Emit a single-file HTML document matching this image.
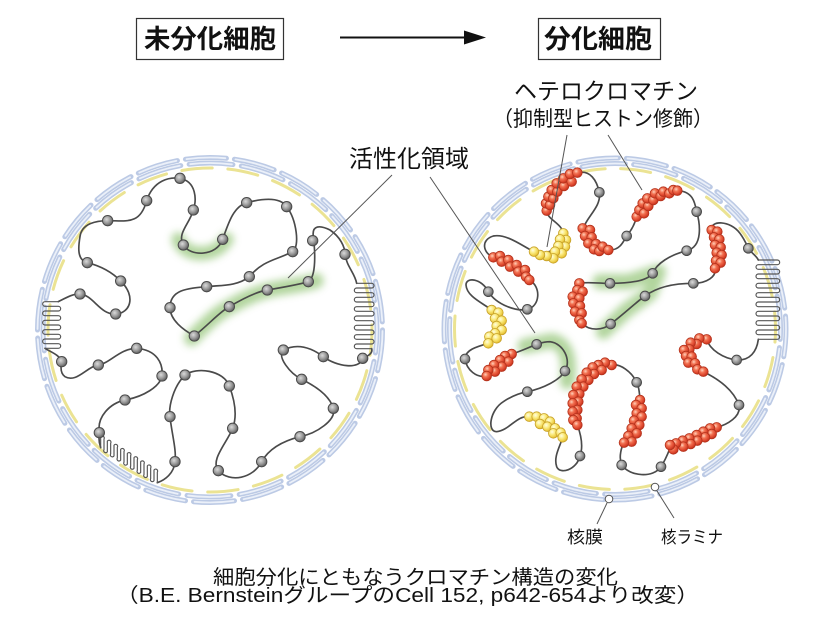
<!DOCTYPE html>
<html><head><meta charset="utf-8"><style>
html,body{margin:0;padding:0;background:#fff;}
svg{display:block;}
.t{font-family:"Liberation Sans","Noto Sans CJK JP",sans-serif;fill:#111;}
</style></head><body>
<svg width="823" height="625" viewBox="0 0 823 625" xmlns="http://www.w3.org/2000/svg">
<defs>
<radialGradient id="gn" cx="0.4" cy="0.38" r="0.65"><stop offset="0" stop-color="#dadada"/><stop offset="0.55" stop-color="#9a9a9a"/><stop offset="1" stop-color="#5a5a5a"/></radialGradient>
<radialGradient id="gr" cx="0.38" cy="0.35" r="0.7"><stop offset="0" stop-color="#ffd2bc"/><stop offset="0.35" stop-color="#f27252"/><stop offset="0.75" stop-color="#db432b"/><stop offset="1" stop-color="#b32d18"/></radialGradient>
<radialGradient id="gy" cx="0.38" cy="0.35" r="0.7"><stop offset="0" stop-color="#fffde2"/><stop offset="0.4" stop-color="#fbec82"/><stop offset="0.8" stop-color="#ecca42"/><stop offset="1" stop-color="#cfa522"/></radialGradient>
<circle id="n" r="15.5" fill="url(#gn)" stroke="#4a4a4a" stroke-width="3"/>
<circle id="m" r="14.5" fill="url(#gn)" stroke="#4a4a4a" stroke-width="3"/>
<circle id="r" r="14.5" fill="url(#gr)" stroke="#b5331d" stroke-width="2.5"/>
<circle id="y" r="14.5" fill="url(#gy)" stroke="#c8a22a" stroke-width="2.5"/>
<filter id="bl" x="-30%" y="-30%" width="160%" height="160%"><feGaussianBlur stdDeviation="12"/></filter>
</defs>

<!-- Header -->
<rect x="136.5" y="18.5" width="147" height="41" fill="#fff" stroke="#333" stroke-width="1.2"/>
<text class="t" x="144" y="48" font-size="26" font-weight="bold" textLength="132" lengthAdjust="spacingAndGlyphs">未分化細胞</text>
<line x1="340" y1="37.5" x2="470" y2="37.5" stroke="#111" stroke-width="2"/>
<polygon points="464,30.5 486,37.5 464,44.5" fill="#111"/>
<rect x="538.5" y="18.5" width="122" height="41" fill="#fff" stroke="#333" stroke-width="1.2"/>
<text class="t" x="544" y="48" font-size="26" font-weight="bold" textLength="108" lengthAdjust="spacingAndGlyphs">分化細胞</text>

<!-- Rings left -->
<g transform="translate(210,330)" fill="none" stroke-linecap="round">
<circle r="172.5" stroke="#bccae5" stroke-width="5" pathLength="1000" stroke-dasharray="38 7.45"/>
<circle r="172.5" stroke="#ebf0f9" stroke-width="1.8" pathLength="1000" stroke-dasharray="36 9.45" stroke-dashoffset="-1"/>
<circle r="167" stroke="#bccae5" stroke-width="5" pathLength="1000" stroke-dasharray="42 8" stroke-dashoffset="20"/>
<circle r="167" stroke="#ebf0f9" stroke-width="1.8" pathLength="1000" stroke-dasharray="40 10" stroke-dashoffset="19"/>
<circle r="162" stroke="#ebe393" stroke-width="3" pathLength="1000" stroke-dasharray="30 15.45" stroke-dashoffset="5"/>
</g>
<!-- Rings right -->
<g transform="translate(615,329)" fill="none" stroke-linecap="round">
<circle r="171" stroke="#bccae5" stroke-width="5" pathLength="1000" stroke-dasharray="38 7.45" stroke-dashoffset="12"/>
<circle r="171" stroke="#ebf0f9" stroke-width="1.8" pathLength="1000" stroke-dasharray="36 9.45" stroke-dashoffset="11"/>
<circle r="165.5" stroke="#bccae5" stroke-width="5" pathLength="1000" stroke-dasharray="42 8" stroke-dashoffset="32"/>
<circle r="165.5" stroke="#ebf0f9" stroke-width="1.8" pathLength="1000" stroke-dasharray="40 10" stroke-dashoffset="31"/>
<circle r="160.5" stroke="#ebe393" stroke-width="3" pathLength="1000" stroke-dasharray="30 15.45" stroke-dashoffset="17"/>
</g>

<!-- LEFT CELL chromatin (zoom coords) -->
<g transform="translate(30,150) scale(0.333333)">
<g filter="url(#bl)" fill="none" stroke="#9fcb85" stroke-linecap="round" stroke-linejoin="round" opacity="0.8">
<path d="M445,268 C455,300 490,312 520,310 C555,306 575,292 590,268" stroke-width="42"/>
<path d="M485,565 C530,520 560,490 600,470 C650,440 700,420 760,412 C800,405 840,400 858,392" stroke-width="46"/>
</g>
<g fill="none" stroke="#4a4a4a" stroke-width="5" stroke-linecap="round" stroke-linejoin="round">
<path d="M85,455 C105,445 130,430 150,432 C190,435 210,495 257,492 C300,490 320,440 272,393 C240,360 200,345 172,338 C140,330 145,290 150,260 C155,220 200,212 233,212 C290,212 330,225 350,152 C370,90 420,80 450,85 C500,95 500,150 490,180 C480,220 440,250 460,285 C480,320 560,320 578,268 C595,220 610,170 650,158 C700,145 750,140 770,170 C800,210 810,290 788,305 C740,330 700,330 658,380 C620,410 570,405 530,410 C470,415 420,420 420,473 C420,510 460,540 493,558 C540,520 570,485 598,470 C640,445 680,425 712,420 C770,410 820,400 835,395 C860,380 855,300 850,260 C845,225 870,225 900,240 C930,260 945,290 945,313 C950,350 975,370 980,400"/>
<path d="M1025,596 C1030,612 1008,620 998,625 C990,660 920,650 880,620 C840,590 800,580 760,600 C740,620 780,670 815,688 C860,710 900,740 910,775 C920,810 860,850 810,860 C770,870 720,890 695,935 C670,985 600,1000 565,962 C540,930 590,880 608,835 C625,790 610,740 598,708 C580,660 500,650 465,675 C430,710 415,770 420,800 C425,850 440,900 435,935 C432,970 405,990 382,998"/>
<path d="M212,893 C206,875 206,860 208,848 C200,800 240,760 285,750 C340,740 390,710 396,678 C400,640 380,600 320,595 C270,595 240,640 205,645 C170,650 140,700 105,680 C90,670 92,650 95,635 C90,615 60,605 45,595"/>
</g>
<g fill="none" stroke="#555" stroke-width="3.5" stroke-linecap="round" stroke-linejoin="round">
<path d="M980,400 L1025,400 A7,7 0 0 1 1025,414 L980,414 A7,7 0 0 0 980,428 L1025,428 A7,7 0 0 1 1025,442 L980,442 A7,7 0 0 0 980,456 L1025,456 A7,7 0 0 1 1025,470 L980,470 A7,7 0 0 0 980,484 L1025,484 A7,7 0 0 1 1025,498 L980,498 A7,7 0 0 0 980,512 L1025,512 A7,7 0 0 1 1025,526 L980,526 A7,7 0 0 0 980,540 L1025,540 A7,7 0 0 1 1025,554 L980,554 A7,7 0 0 0 980,568 L1025,568 A7,7 0 0 1 1025,582 L980,582 A7,7 0 0 0 980,596 L1025,596"/>
<path d="M85,455 L45,455 A7,7 0 0 0 45,469 L85,469 A7,7 0 0 1 85,483 L45,483 A7,7 0 0 0 45,497 L85,497 A7,7 0 0 1 85,511 L45,511 A7,7 0 0 0 45,525 L85,525 A7,7 0 0 1 85,539 L45,539 A7,7 0 0 0 45,553 L85,553 A7,7 0 0 1 85,567 L45,567 A7,7 0 0 0 45,581 L85,581 A7,7 0 0 1 85,595 L45,595"/>
<path d="M212,893 L212,861 A5,5 0 0 1 222,867.2 L222,899.2 A5,5 0 0 0 232,905.4 L232,873.4 A5,5 0 0 1 242,879.6 L242,911.6 A5,5 0 0 0 252,917.8 L252,885.8 A5,5 0 0 1 262,892 L262,924 A5,5 0 0 0 272,930.2 L272,898.2 A5,5 0 0 1 282,904.4 L282,936.4 A5,5 0 0 0 292,942.6 L292,910.6 A5,5 0 0 1 302,916.8 L302,948.8 A5,5 0 0 0 312,955 L312,923 A5,5 0 0 1 322,929.2 L322,961.2 A5,5 0 0 0 332,967.4 L332,935.4 A5,5 0 0 1 342,941.6 L342,973.6 A5,5 0 0 0 352,979.8 L352,947.8 A5,5 0 0 1 362,954 L362,986 A5,5 0 0 0 372,992.2 L372,960.2 A5,5 0 0 1 382,966.4 L382,998.4"/>
</g>
<g>
<use href="#n" x="450" y="85"/><use href="#n" x="350" y="152"/><use href="#n" x="490" y="180"/><use href="#n" x="233" y="212"/>
<use href="#n" x="460" y="285"/><use href="#n" x="578" y="268"/><use href="#n" x="650" y="158"/><use href="#n" x="770" y="170"/>
<use href="#n" x="788" y="305"/><use href="#n" x="848" y="272"/><use href="#n" x="945" y="313"/><use href="#n" x="172" y="338"/>
<use href="#n" x="272" y="393"/><use href="#n" x="658" y="380"/><use href="#n" x="530" y="410"/><use href="#n" x="835" y="395"/>
<use href="#n" x="712" y="420"/><use href="#n" x="150" y="432"/><use href="#n" x="257" y="492"/><use href="#n" x="420" y="473"/>
<use href="#n" x="598" y="470"/><use href="#n" x="493" y="558"/><use href="#n" x="760" y="600"/><use href="#n" x="880" y="620"/>
<use href="#n" x="998" y="625"/><use href="#n" x="95" y="635"/><use href="#n" x="205" y="645"/><use href="#n" x="320" y="595"/>
<use href="#n" x="396" y="678"/><use href="#n" x="465" y="675"/><use href="#n" x="598" y="708"/><use href="#n" x="815" y="688"/>
<use href="#n" x="285" y="750"/><use href="#n" x="420" y="800"/><use href="#n" x="608" y="835"/><use href="#n" x="910" y="775"/>
<use href="#n" x="208" y="848"/><use href="#n" x="810" y="860"/><use href="#n" x="435" y="935"/><use href="#n" x="695" y="935"/>
<use href="#n" x="565" y="962"/>
</g>
</g>

<!-- RIGHT CELL chromatin (zoom coords) -->
<g transform="translate(440,150) scale(0.333333)">
<g filter="url(#bl)" fill="none" stroke="#9fcb85" stroke-linecap="round" stroke-linejoin="round" opacity="0.8">
<path d="M480,395 L565,395 L655,365 L630,430 L560,480 L490,545" stroke-width="46"/>
<path d="M255,588 L335,572 C375,580 392,620 382,695" stroke-width="46"/>
</g>
<g fill="none" stroke="#4a4a4a" stroke-width="5" stroke-linecap="round" stroke-linejoin="round">
<path d="M320,185 C330,140 360,90 415,68 C450,60 470,90 478,127 C485,170 440,200 430,235 C440,270 480,300 510,300 C540,300 550,275 560,258 C575,240 585,220 590,200 C610,150 660,120 715,122 C760,125 765,160 770,185 C780,220 790,290 740,302 C690,315 650,340 638,370 C620,395 560,400 510,400 C470,400 440,395 418,400 C390,430 395,490 425,520 C450,545 490,540 512,522 C560,485 590,455 615,438 C660,405 720,400 760,400 C800,400 830,380 825,355 C840,310 820,270 815,240 C810,210 870,210 900,250 C915,270 920,285 925,295 C935,310 950,318 955,330"/>
<path d="M955,568 C950,605 930,632 890,630 C850,625 810,600 800,568 C740,580 735,640 790,665 C840,690 880,720 897,765 C905,800 860,825 830,832 C760,850 700,870 690,895 C680,920 670,940 663,950 C640,985 570,980 545,945 C535,920 545,890 552,878 C580,840 605,790 600,750 C598,720 595,705 590,697 C575,665 540,640 515,645 C440,650 400,720 400,760 C400,800 405,800 412,825 C425,860 430,890 420,918 C410,960 360,975 350,950 C340,920 360,890 368,862 C340,830 300,800 268,800 C230,795 210,840 170,845 C140,845 150,780 190,755 C220,735 245,728 262,725 C310,715 360,690 375,663 C395,630 370,580 330,575 C310,575 300,580 290,583 C260,595 240,605 215,612 C180,640 150,660 140,678 C110,685 80,660 75,627 C75,600 110,590 145,580 C165,540 180,510 155,480 C130,460 80,440 78,405 C78,380 125,385 145,425 C170,465 230,485 262,478 C300,470 305,410 268,390 C230,370 190,330 160,322 C130,310 120,270 160,258 C200,250 250,290 282,305 C320,320 375,290 370,250 C365,220 325,210 320,185"/>
</g>
<path fill="none" stroke="#555" stroke-width="3.5" stroke-linecap="round" stroke-linejoin="round" d="M955,330 L1012,330 A7,7 0 0 1 1012,344 L955,344 A7,7 0 0 0 955,358 L1012,358 A7,7 0 0 1 1012,372 L955,372 A7,7 0 0 0 955,386 L1012,386 A7,7 0 0 1 1012,400 L955,400 A7,7 0 0 0 955,414 L1012,414 A7,7 0 0 1 1012,428 L955,428 A7,7 0 0 0 955,442 L1012,442 A7,7 0 0 1 1012,456 L955,456 A7,7 0 0 0 955,470 L1012,470 A7,7 0 0 1 1012,484 L955,484 A7,7 0 0 0 955,498 L1012,498 A7,7 0 0 1 1012,512 L955,512 A7,7 0 0 0 955,526 L1012,526 A7,7 0 0 1 1012,540 L955,540 A7,7 0 0 0 955,554 L1012,554 A7,7 0 0 1 1012,568 L955,568"/>
<g>
<use href="#m" x="478" y="127"/><use href="#m" x="770" y="185"/><use href="#m" x="560" y="258"/><use href="#m" x="740" y="302"/>
<use href="#m" x="925" y="295"/><use href="#m" x="262" y="478"/><use href="#m" x="145" y="425"/><use href="#m" x="510" y="400"/>
<use href="#m" x="638" y="370"/><use href="#m" x="760" y="400"/><use href="#m" x="615" y="438"/><use href="#m" x="512" y="522"/>
<use href="#m" x="290" y="583"/><use href="#m" x="375" y="663"/><use href="#m" x="75" y="627"/><use href="#m" x="262" y="725"/>
<use href="#m" x="590" y="697"/><use href="#m" x="890" y="630"/><use href="#m" x="897" y="765"/><use href="#m" x="420" y="918"/>
<use href="#m" x="545" y="945"/><use href="#m" x="663" y="950"/>
</g>
<!-- red clusters -->
<g>
<use href="#r" x="320" y="182"/><use href="#r" x="318" y="160"/><use href="#r" x="330" y="165"/><use href="#r" x="325" y="140"/><use href="#r" x="340" y="145"/><use href="#r" x="335" y="120"/><use href="#r" x="352" y="125"/><use href="#r" x="350" y="100"/><use href="#r" x="372" y="108"/><use href="#r" x="370" y="85"/><use href="#r" x="395" y="95"/><use href="#r" x="390" y="72"/><use href="#r" x="412" y="68"/>
<use href="#r" x="428" y="235"/><use href="#r" x="450" y="240"/><use href="#r" x="435" y="258"/><use href="#r" x="455" y="262"/><use href="#r" x="445" y="280"/><use href="#r" x="468" y="282"/><use href="#r" x="462" y="298"/><use href="#r" x="478" y="303"/><use href="#r" x="488" y="290"/><use href="#r" x="505" y="300"/>
<use href="#r" x="590" y="200"/><use href="#r" x="598" y="180"/><use href="#r" x="612" y="190"/><use href="#r" x="608" y="160"/><use href="#r" x="625" y="168"/><use href="#r" x="622" y="145"/><use href="#r" x="640" y="150"/><use href="#r" x="645" y="130"/><use href="#r" x="662" y="138"/><use href="#r" x="670" y="125"/><use href="#r" x="688" y="130"/><use href="#r" x="700" y="120"/><use href="#r" x="712" y="122"/>
<use href="#r" x="815" y="240"/><use href="#r" x="832" y="245"/><use href="#r" x="822" y="262"/><use href="#r" x="838" y="268"/><use href="#r" x="825" y="285"/><use href="#r" x="842" y="292"/><use href="#r" x="830" y="308"/><use href="#r" x="845" y="315"/><use href="#r" x="828" y="332"/><use href="#r" x="842" y="338"/><use href="#r" x="825" y="355"/>
<use href="#r" x="160" y="322"/><use href="#r" x="180" y="318"/><use href="#r" x="185" y="335"/><use href="#r" x="205" y="330"/><use href="#r" x="210" y="350"/><use href="#r" x="230" y="345"/><use href="#r" x="235" y="365"/><use href="#r" x="255" y="360"/><use href="#r" x="258" y="380"/><use href="#r" x="268" y="390"/>
<use href="#r" x="418" y="400"/><use href="#r" x="412" y="420"/><use href="#r" x="428" y="425"/><use href="#r" x="398" y="440"/><use href="#r" x="418" y="445"/><use href="#r" x="400" y="460"/><use href="#r" x="420" y="468"/><use href="#r" x="405" y="485"/><use href="#r" x="425" y="490"/><use href="#r" x="418" y="510"/><use href="#r" x="425" y="520"/>
<use href="#r" x="215" y="612"/><use href="#r" x="195" y="618"/><use href="#r" x="205" y="635"/><use href="#r" x="180" y="630"/><use href="#r" x="185" y="650"/><use href="#r" x="162" y="645"/><use href="#r" x="165" y="665"/><use href="#r" x="145" y="660"/><use href="#r" x="140" y="678"/>
<use href="#r" x="515" y="645"/><use href="#r" x="495" y="638"/><use href="#r" x="475" y="645"/><use href="#r" x="485" y="660"/><use href="#r" x="458" y="652"/><use href="#r" x="462" y="672"/><use href="#r" x="440" y="668"/><use href="#r" x="445" y="690"/><use href="#r" x="425" y="688"/><use href="#r" x="430" y="710"/><use href="#r" x="410" y="710"/><use href="#r" x="418" y="732"/><use href="#r" x="400" y="735"/><use href="#r" x="415" y="755"/><use href="#r" x="398" y="760"/><use href="#r" x="412" y="780"/><use href="#r" x="398" y="785"/><use href="#r" x="410" y="805"/><use href="#r" x="400" y="810"/><use href="#r" x="412" y="825"/>
<use href="#r" x="600" y="750"/><use href="#r" x="588" y="765"/><use href="#r" x="605" y="775"/><use href="#r" x="590" y="790"/><use href="#r" x="605" y="800"/><use href="#r" x="582" y="812"/><use href="#r" x="598" y="825"/><use href="#r" x="575" y="835"/><use href="#r" x="590" y="850"/><use href="#r" x="565" y="858"/><use href="#r" x="575" y="875"/><use href="#r" x="552" y="878"/>
<use href="#r" x="830" y="832"/><use href="#r" x="810" y="835"/><use href="#r" x="815" y="852"/><use href="#r" x="790" y="845"/><use href="#r" x="795" y="862"/><use href="#r" x="770" y="855"/><use href="#r" x="772" y="872"/><use href="#r" x="748" y="865"/><use href="#r" x="752" y="882"/><use href="#r" x="728" y="872"/><use href="#r" x="730" y="890"/><use href="#r" x="708" y="880"/><use href="#r" x="700" y="898"/><use href="#r" x="690" y="885"/>
<use href="#r" x="800" y="568"/><use href="#r" x="778" y="565"/><use href="#r" x="770" y="582"/><use href="#r" x="752" y="578"/><use href="#r" x="748" y="598"/><use href="#r" x="732" y="600"/><use href="#r" x="738" y="618"/><use href="#r" x="755" y="620"/><use href="#r" x="745" y="638"/><use href="#r" x="765" y="640"/><use href="#r" x="772" y="658"/><use href="#r" x="790" y="665"/>
</g>
<!-- yellow clusters -->
<g>
<use href="#y" x="370" y="250"/><use href="#y" x="378" y="270"/><use href="#y" x="360" y="268"/><use href="#y" x="375" y="290"/><use href="#y" x="355" y="288"/><use href="#y" x="365" y="310"/><use href="#y" x="345" y="305"/><use href="#y" x="340" y="325"/><use href="#y" x="320" y="318"/><use href="#y" x="300" y="315"/><use href="#y" x="282" y="305"/>
<use href="#y" x="155" y="480"/><use href="#y" x="175" y="488"/><use href="#y" x="165" y="505"/><use href="#y" x="185" y="512"/><use href="#y" x="170" y="528"/><use href="#y" x="185" y="540"/><use href="#y" x="165" y="550"/><use href="#y" x="148" y="560"/><use href="#y" x="170" y="565"/><use href="#y" x="145" y="580"/>
<use href="#y" x="268" y="800"/><use href="#y" x="290" y="800"/><use href="#y" x="312" y="805"/><use href="#y" x="330" y="815"/><use href="#y" x="300" y="822"/><use href="#y" x="322" y="830"/><use href="#y" x="345" y="835"/><use href="#y" x="340" y="850"/><use href="#y" x="362" y="848"/><use href="#y" x="368" y="862"/>
</g>
</g>

<!-- Leader lines -->
<g stroke="#555" stroke-width="1" fill="none">
<line x1="392" y1="175" x2="288" y2="278"/>
<line x1="430" y1="177" x2="535" y2="333"/>
<line x1="567" y1="135" x2="547" y2="247"/>
<line x1="608" y1="135" x2="642" y2="190"/>
<line x1="607" y1="503" x2="597" y2="524"/>
<line x1="657" y1="491" x2="674" y2="518"/>
</g>
<circle cx="609" cy="499" r="3.8" fill="#fff" stroke="#555" stroke-width="1"/>
<circle cx="655" cy="487" r="3.8" fill="#fff" stroke="#555" stroke-width="1"/>

<!-- Labels -->
<text class="t" x="514" y="99" font-size="23" textLength="184" lengthAdjust="spacingAndGlyphs">ヘテロクロマチン</text>
<text class="t" x="493" y="126" font-size="21" textLength="220" lengthAdjust="spacingAndGlyphs">（抑制型ヒストン修飾）</text>
<text class="t" x="349" y="167" font-size="24" textLength="120" lengthAdjust="spacingAndGlyphs">活性化領域</text>
<text class="t" x="567" y="543" font-size="17" textLength="36" lengthAdjust="spacingAndGlyphs">核膜</text>
<text class="t" x="661" y="543" font-size="17" textLength="62" lengthAdjust="spacingAndGlyphs">核ラミナ</text>
<text class="t" x="213" y="584" font-size="20" textLength="405" lengthAdjust="spacingAndGlyphs">細胞分化にともなうクロマチン構造の変化</text>
<text class="t" x="116" y="602" font-size="20" textLength="583" lengthAdjust="spacingAndGlyphs">（B.E. BernsteinグループのCell 152, p642-654より改変）</text>
</svg>
</body></html>
